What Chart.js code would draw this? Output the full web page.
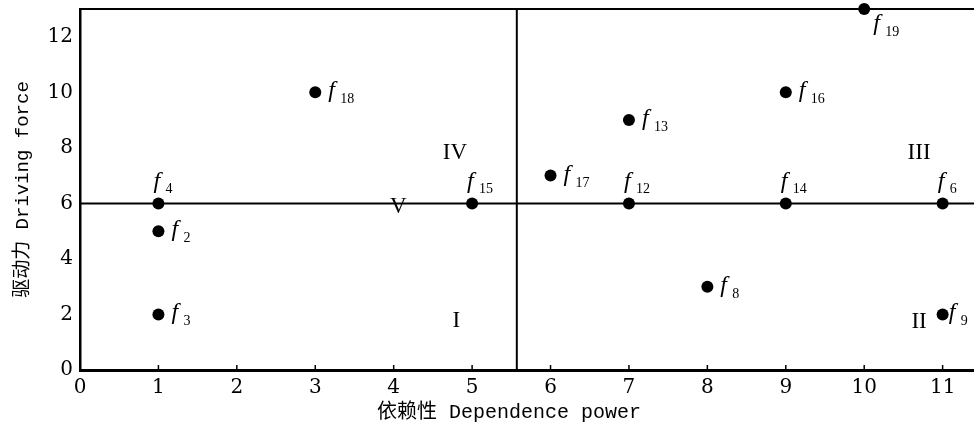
<!DOCTYPE html>
<html>
<head>
<meta charset="utf-8">
<script src="https://cdn.jsdelivr.net/npm/chart.js@4"></script>
<style>
html,body{margin:0;padding:0;background:#fff;}
#wrap{width:974px;height:430px;position:relative;}
</style>
</head>
<body>
<div id="wrap"><canvas id="c"></canvas></div>
<script>
// ---- data ----
const factorIds     = ['2','3','4','6','8','9','12','13','14','15','16','17','18','19'];
const dependence    = [1, 1, 1, 11, 8, 11, 7, 7, 9, 5, 9, 6, 3, 10];
const drivingForce  = [5, 2, 6, 6, 3, 2, 6, 9, 6, 6, 10, 7, 10, 13];
const labelSide     = ['right','right','above','above','right','rightClose','above','right','above','above','right','right','right','belowRight'];
const xTickMax = 11.4, yTickMax = 13;
const dividerX = 5.57, dividerY = 6;
const quadrantNames = ['I','II','III','IV','V'];
const quadrantX     = [4.8, 10.7, 10.7, 4.78, 4.06];
const quadrantY     = [1.75, 1.72, 7.83, 7.83, 5.86];

const points = dependence.map((x,i)=>({x, y: drivingForce[i]}));

const overlay = {
  id:'overlay',
  beforeDatasetsDraw(chart){
    const {ctx, chartArea:a, scales:{x,y}} = chart;
    ctx.save();
    ctx.strokeStyle='#000';
    // top border
    ctx.lineWidth=2;
    ctx.beginPath(); ctx.moveTo(a.left, a.top); ctx.lineTo(a.right, a.top); ctx.stroke();
    // dividers
    const py = y.getPixelForValue(dividerY);
    const px = x.getPixelForValue(dividerX);
    ctx.beginPath(); ctx.moveTo(a.left, py); ctx.lineTo(a.right, py); ctx.stroke();
    ctx.beginPath(); ctx.moveTo(px, a.top); ctx.lineTo(px, a.bottom); ctx.stroke();
    // inner ticks on x axis
    ctx.lineWidth=1.5;
    x.ticks.forEach(t=>{
      const tx = x.getPixelForValue(t.value);
      ctx.beginPath(); ctx.moveTo(tx, a.bottom); ctx.lineTo(tx, a.bottom-5); ctx.stroke();
    });
    // quadrant labels
    ctx.fillStyle='#000';
    ctx.font='23px "Liberation Serif", serif';
    ctx.textAlign='center'; ctx.textBaseline='middle';
    quadrantNames.forEach((n,i)=>{
      ctx.fillText(n, x.getPixelForValue(quadrantX[i]), y.getPixelForValue(quadrantY[i]));
    });
    ctx.restore();
  },
  afterDatasetsDraw(chart){
    const {ctx} = chart;
    const meta = chart.getDatasetMeta(0);
    ctx.save();
    ctx.fillStyle='#000';
    ctx.textBaseline='alphabetic';
    ctx.textAlign='left';
    meta.data.forEach((el,i)=>{
      const px = el.x, py = el.y;
      let fx, fy, sx, sy;
      const side = labelSide[i];
      if (side==='above'){ fx=px-5; fy=py-15; sx=fx+12; sy=py-10; }
      else if (side==='belowRight'){ fx=px+9; fy=py+21; sx=fx+12; sy=py+27; }
      else if (side==='rightClose'){ fx=px+6; fy=py+5; sx=fx+12; sy=py+11; }
      else { fx=px+13; fy=py+5; sx=fx+12; sy=py+11; }
      ctx.font='italic 24px "Liberation Serif", serif';
      ctx.fillText('f', fx, fy);
      ctx.font='14px "Liberation Serif", serif';
      ctx.fillText(factorIds[i], sx, sy);
    });
    ctx.restore();
  }
};

new Chart(document.getElementById('c'), {
  type:'scatter',
  data:{ datasets:[{ data: points, pointRadius:6, pointHoverRadius:6, backgroundColor:'#000', borderWidth:0, clip:false }] },
  options:{
    responsive:true, maintainAspectRatio:false, animation:false,
    layout:{ autoPadding:false, padding:{ top:9, right:0, left:0, bottom:0 } },
    plugins:{ legend:{display:false}, tooltip:{enabled:false} },
    scales:{
      x:{
        type:'linear', min:0, max:xTickMax,
        afterFit(s){ s.height=60; s.paddingLeft=0; s.paddingRight=0; },
        grid:{ display:false, drawTicks:false },
        border:{ display:true, color:'#000', width:3 },
        ticks:{ stepSize:1, includeBounds:false, padding:6, color:'#000', font:{ family:'"DejaVu Serif", serif', size:20 } },
        title:{ display:true, text:'依赖性 Dependence power   ', color:'#000', padding:{top:0,bottom:5}, font:{ family:'"Liberation Mono", "Noto Sans CJK SC", monospace', size:20 } }
      },
      y:{
        type:'linear', min:0, max:yTickMax,
        afterFit(s){ s.width=80; s.paddingTop=0; s.paddingBottom=0; },
        grid:{ display:false, drawTicks:false },
        border:{ display:true, color:'#000', width:2.5 },
        ticks:{ stepSize:2, includeBounds:false, padding:7, color:'#000', font:{ family:'"DejaVu Serif", serif', size:20 } },
        title:{ display:true, text:'驱动力 Driving force', color:'#000', padding:{top:12,bottom:0}, font:{ family:'"Liberation Mono", "Noto Sans CJK SC", monospace', size:19 } }
      }
    }
  },
  plugins:[overlay]
});
</script>
</body>
</html>
